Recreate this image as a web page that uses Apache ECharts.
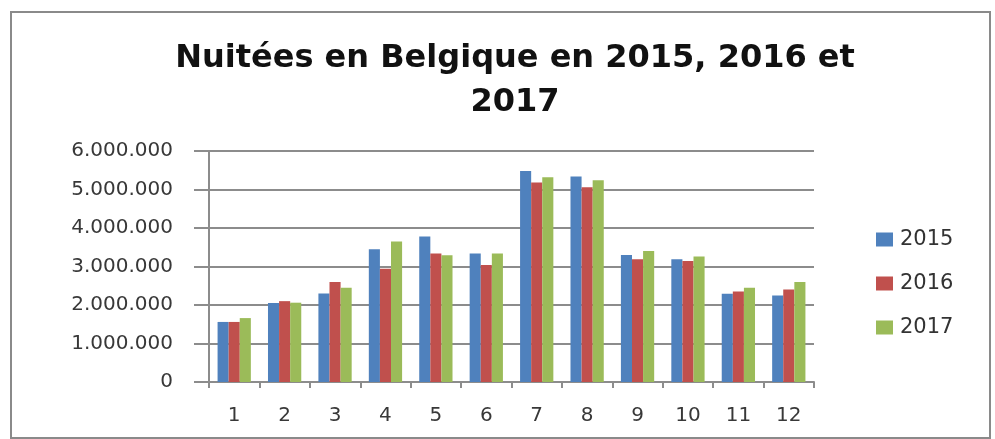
<!DOCTYPE html>
<html>
<head>
<meta charset="utf-8">
<script src="https://cdn.jsdelivr.net/npm/echarts@6/dist/echarts.min.js"></script>
<style>
  html, body { margin: 0; padding: 0; background: #fff; }
  #main { width: 995px; height: 439px; }
</style>
</head>
<body>
<div id="main"></div>
<script>
// mois 1..12
var months = ['1', '2', '3', '4', '5', '6', '7', '8', '9', '10', '11', '12'];
var years = ['2015', '2016', '2017'];
var nuitees2015 = [1560000, 2050000, 2300000, 3450000, 3780000, 3340000, 5480000, 5340000, 3300000, 3190000, 2290000, 2250000];
var nuitees2016 = [1560000, 2100000, 2600000, 2940000, 3340000, 3040000, 5180000, 5060000, 3190000, 3140000, 2350000, 2400000];
var nuitees2017 = [1660000, 2060000, 2450000, 3650000, 3290000, 3340000, 5320000, 5240000, 3400000, 3260000, 2450000, 2600000];
var colors = ['#4f81bd', '#c0504d', '#9bbb59'];

var myChart = echarts.init(document.getElementById('main'));

function fmtPoints(v) { // 6000000 -> 6.000.000
  return String(v).replace(/\B(?=(\d{3})+(?!\d))/g, '.');
}

var option = {
  animation: false,
  color: colors,
  title: {
    text: 'Nuitées en Belgique en 2015, 2016 et\n2017',
    left: 510,
    textAlign: 'center',
    top: 32,
    textStyle: {
      fontFamily: 'DejaVu Sans',
      fontWeight: 'bold',
      fontSize: 32,
      lineHeight: 44,
      color: '#111'
    }
  },
  graphic: [{
    type: 'rect',
    shape: { x: 11, y: 12, width: 979, height: 426 },
    style: { fill: 'none', stroke: '#8a8a8a', lineWidth: 2 },
    silent: true
  }],
  legend: {
    orient: 'vertical',
    left: 871,
    top: 224,
    itemWidth: 17,
    itemHeight: 14,
    itemGap: 23,
    icon: 'rect',
    data: years,
    textStyle: { fontFamily: 'DejaVu Sans', fontSize: 21, color: '#333', padding: [0, 0, 0, 2] }
  },
  grid: {
    left: 209,
    right: 181,
    top: 151,
    bottom: 57,
    containLabel: false
  },
  xAxis: {
    type: 'category',
    data: months,
    axisLine: { lineStyle: { color: '#8c8c8c', width: 2 } },
    axisTick: { show: true, length: 6, lineStyle: { color: '#8c8c8c', width: 2 } },
    axisLabel: {
      interval: 0,
      margin: 24,
      fontFamily: 'DejaVu Sans',
      fontSize: 20,
      color: '#383838'
    }
  },
  yAxis: {
    type: 'value',
    min: 0,
    max: 6000000,
    interval: 1000000,
    axisLine: { show: true, lineStyle: { color: '#8c8c8c', width: 2 } },
    axisTick: { show: true, length: 15, lineStyle: { color: '#8c8c8c', width: 2 } },
    splitLine: { lineStyle: { color: '#8c8c8c', width: 2 } },
    axisLabel: {
      margin: 36,
      fontFamily: 'DejaVu Sans',
      fontSize: 20,
      color: '#383838',
      formatter: fmtPoints
    }
  },
  series: [
    { name: '2015', type: 'bar', data: nuitees2015, barGap: '0%', barCategoryGap: '34%' },
    { name: '2016', type: 'bar', data: nuitees2016, barGap: '0%', barCategoryGap: '34%' },
    { name: '2017', type: 'bar', data: nuitees2017, barGap: '0%', barCategoryGap: '34%' }
  ]
};
myChart.setOption(option);
</script>
</body>
</html>
